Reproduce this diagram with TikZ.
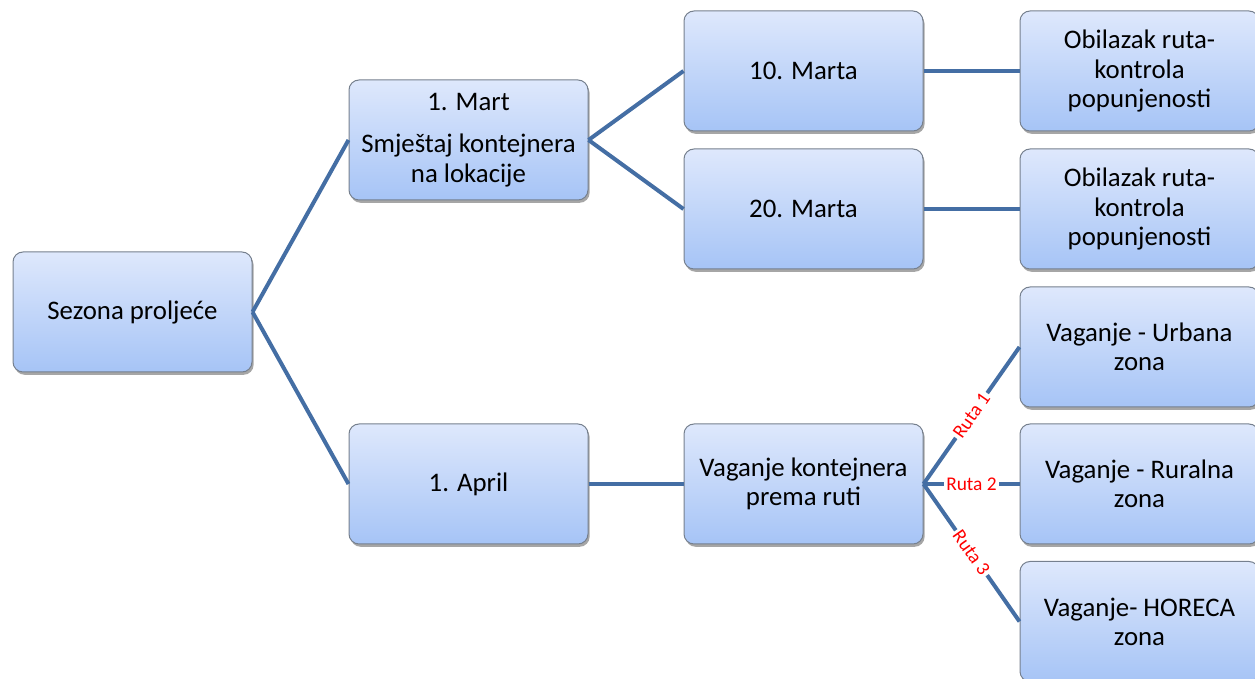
\documentclass[tikz,border=0pt]{standalone}
\usepackage{fontspec}
\setmainfont{Carlito}
\usetikzlibrary{shadows}
\definecolor{linkblue}{RGB}{68,110,164}
\definecolor{boxtop}{RGB}{222,232,252}
\definecolor{boxbottom}{RGB}{166,196,246}
\definecolor{boxrim}{RGB}{118,128,142}
\begin{document}
\begin{tikzpicture}[x=0.5pt,y=-0.5pt,
    box/.style={draw=boxrim,line width=0.5pt,rounded corners=5pt,
      top color=boxtop,bottom color=boxbottom,
      minimum width=119.5pt,minimum height=60pt,inner sep=1pt,align=center,
      font=\fontsize{13.4}{14.6}\selectfont,
      drop shadow={shadow xshift=0.8pt,shadow yshift=-1.4pt,opacity=0.35,fill=black}},
    link/.style={draw=linkblue,line width=2pt},
    route/.style={midway,sloped,fill=white,text=red,inner sep=1pt,
      font=\fontsize{9.7}{10}\selectfont}]
    \useasboundingbox (0,0) rectangle (1255,679);
    \node[box] (season) at (132.5,312) {Sezona proljeće};
    \node[box] (mart) at (468.5,140) {1. Mart\\[6.5pt]Smještaj kontejnera\\na lokacije};
    \node[box] (april) at (468.5,484) {1. April};
    \node[box] (d10) at (803.5,71) {10. Marta};
    \node[box] (d20) at (803.5,209) {20. Marta};
    \node[box] (weigh) at (803.5,484) {Vaganje kontejnera\\prema ruti};
    \node[box] (tour1) at (1139.5,71) {Obilazak ruta-\\kontrola\\popunjenosti};
    \node[box] (tour2) at (1139.5,209) {Obilazak ruta-\\kontrola\\popunjenosti};
    \node[box] (urban) at (1139.5,347) {Vaganje - Urbana\\zona};
    \node[box] (rural) at (1139.5,484) {Vaganje - Ruralna\\zona};
    \node[box] (horeca) at (1139.5,621.5) {Vaganje- HORECA\\zona};
    \draw[link] (season.east) -- (mart.west);
    \draw[link] (season.east) -- (april.west);
    \draw[link] (mart.east) -- (d10.west);
    \draw[link] (mart.east) -- (d20.west);
    \draw[link] (d10.east) -- (tour1.west);
    \draw[link] (d20.east) -- (tour2.west);
    \draw[link] (april.east) -- (weigh.west);
    \foreach \dest/\num in {urban/1,rural/2,horeca/3} {
        \draw[link] (weigh.east) -- node[route] {Ruta \num} (\dest.west);
      }
  \end{tikzpicture}
\end{document}
